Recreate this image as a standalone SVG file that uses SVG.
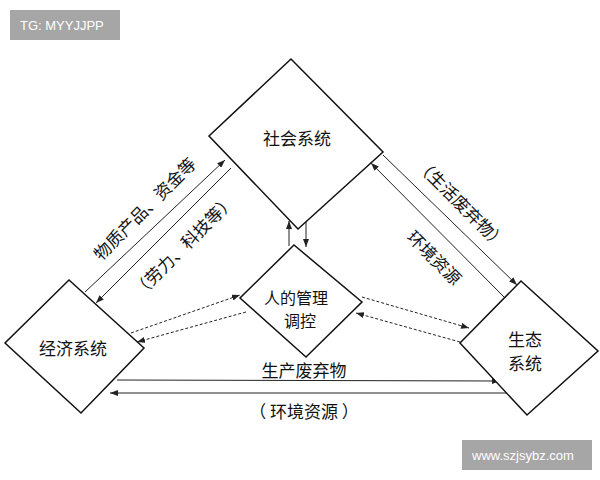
<svg xmlns="http://www.w3.org/2000/svg" width="600" height="480" viewBox="0 0 600 480">
<style>
.n{fill:#fff;stroke:#111;stroke-width:1.5}
.t{font-family:"Noto Sans CJK SC","Noto Sans CJK JP",sans-serif;font-size:17px;fill:#111;text-anchor:middle;dominant-baseline:central}
.s{font-size:16px}
.l{stroke:#222;stroke-width:1;fill:none;marker-end:url(#a)}
.d{stroke-dasharray:3,2}
.w{font-family:"Liberation Sans",sans-serif;font-size:13px;fill:#fff;dominant-baseline:central}
</style>
<defs><marker id="a" markerWidth="8" markerHeight="6" refX="8" refY="3" orient="auto" markerUnits="userSpaceOnUse"><path d="M0,0L8,3L0,6z" fill="#222"/></marker></defs>
<rect width="600" height="480" fill="#fff"/>
<g id="connectors">
<line class="l" x1="85" y1="292" x2="225" y2="160"/>
<line class="l" x1="231" y1="168" x2="96" y2="303"/>
<line class="l" x1="383" y1="155" x2="517" y2="285"/>
<line class="l" x1="504" y1="297" x2="371" y2="163"/>
<line class="l" x1="289" y1="246" x2="289" y2="221"/>
<line class="l" x1="306" y1="221" x2="306" y2="247"/>
<line class="l d" x1="131" y1="333" x2="240" y2="295"/>
<line class="l d" x1="246" y1="312" x2="137" y2="342"/>
<line class="l d" x1="362" y1="297" x2="469" y2="328"/>
<line class="l d" x1="460" y1="342" x2="356" y2="313"/>
<line class="l" x1="117" y1="380" x2="500" y2="381"/>
<line class="l" x1="510" y1="393" x2="110" y2="393"/>
</g>
<g id="social"><polygon class="n" points="291,59 383,152 298,229 209,136"/><text class="t" x="297" y="137">社会系统</text></g>
<g id="center"><polygon class="n" points="294,245 362,302 306,357 240,298"/><text class="t s" x="296" y="297">人的管理</text><text class="t s" x="300" y="320">调控</text></g>
<g id="economy"><polygon class="n" points="69,280 144,348 81,413 5,343"/><text class="t" x="73" y="347">经济系统</text></g>
<g id="ecology"><polygon class="n" points="521,281 598,351 527,415 460,343"/><text class="t" x="525" y="338">生态</text><text class="t" x="525" y="362">系统</text></g>
<g id="labels">
<text class="t" transform="translate(144,208) rotate(-45)">物质产品、资金等</text>
<text class="t" transform="translate(183,245) rotate(-45)">（劳力、科技等）</text>
<text class="t" transform="translate(462,203) rotate(45)">（生活废弃物）</text>
<text class="t" transform="translate(435,257) rotate(45)">环境资源</text>
<text class="t" x="304" y="369">生产废弃物</text>
<text class="t" x="304" y="410">（ 环境资源 ）</text>
</g>
<g id="watermarks">
<rect x="10" y="10" width="110" height="30" fill="#a6a6a6"/><text class="w" x="20" y="25">TG: MYYJJPP</text>
<rect x="462" y="440" width="130" height="30" fill="#a6a6a6"/><text class="w" x="472" y="455">www.szjsybz.com</text>
</g>
</svg>
